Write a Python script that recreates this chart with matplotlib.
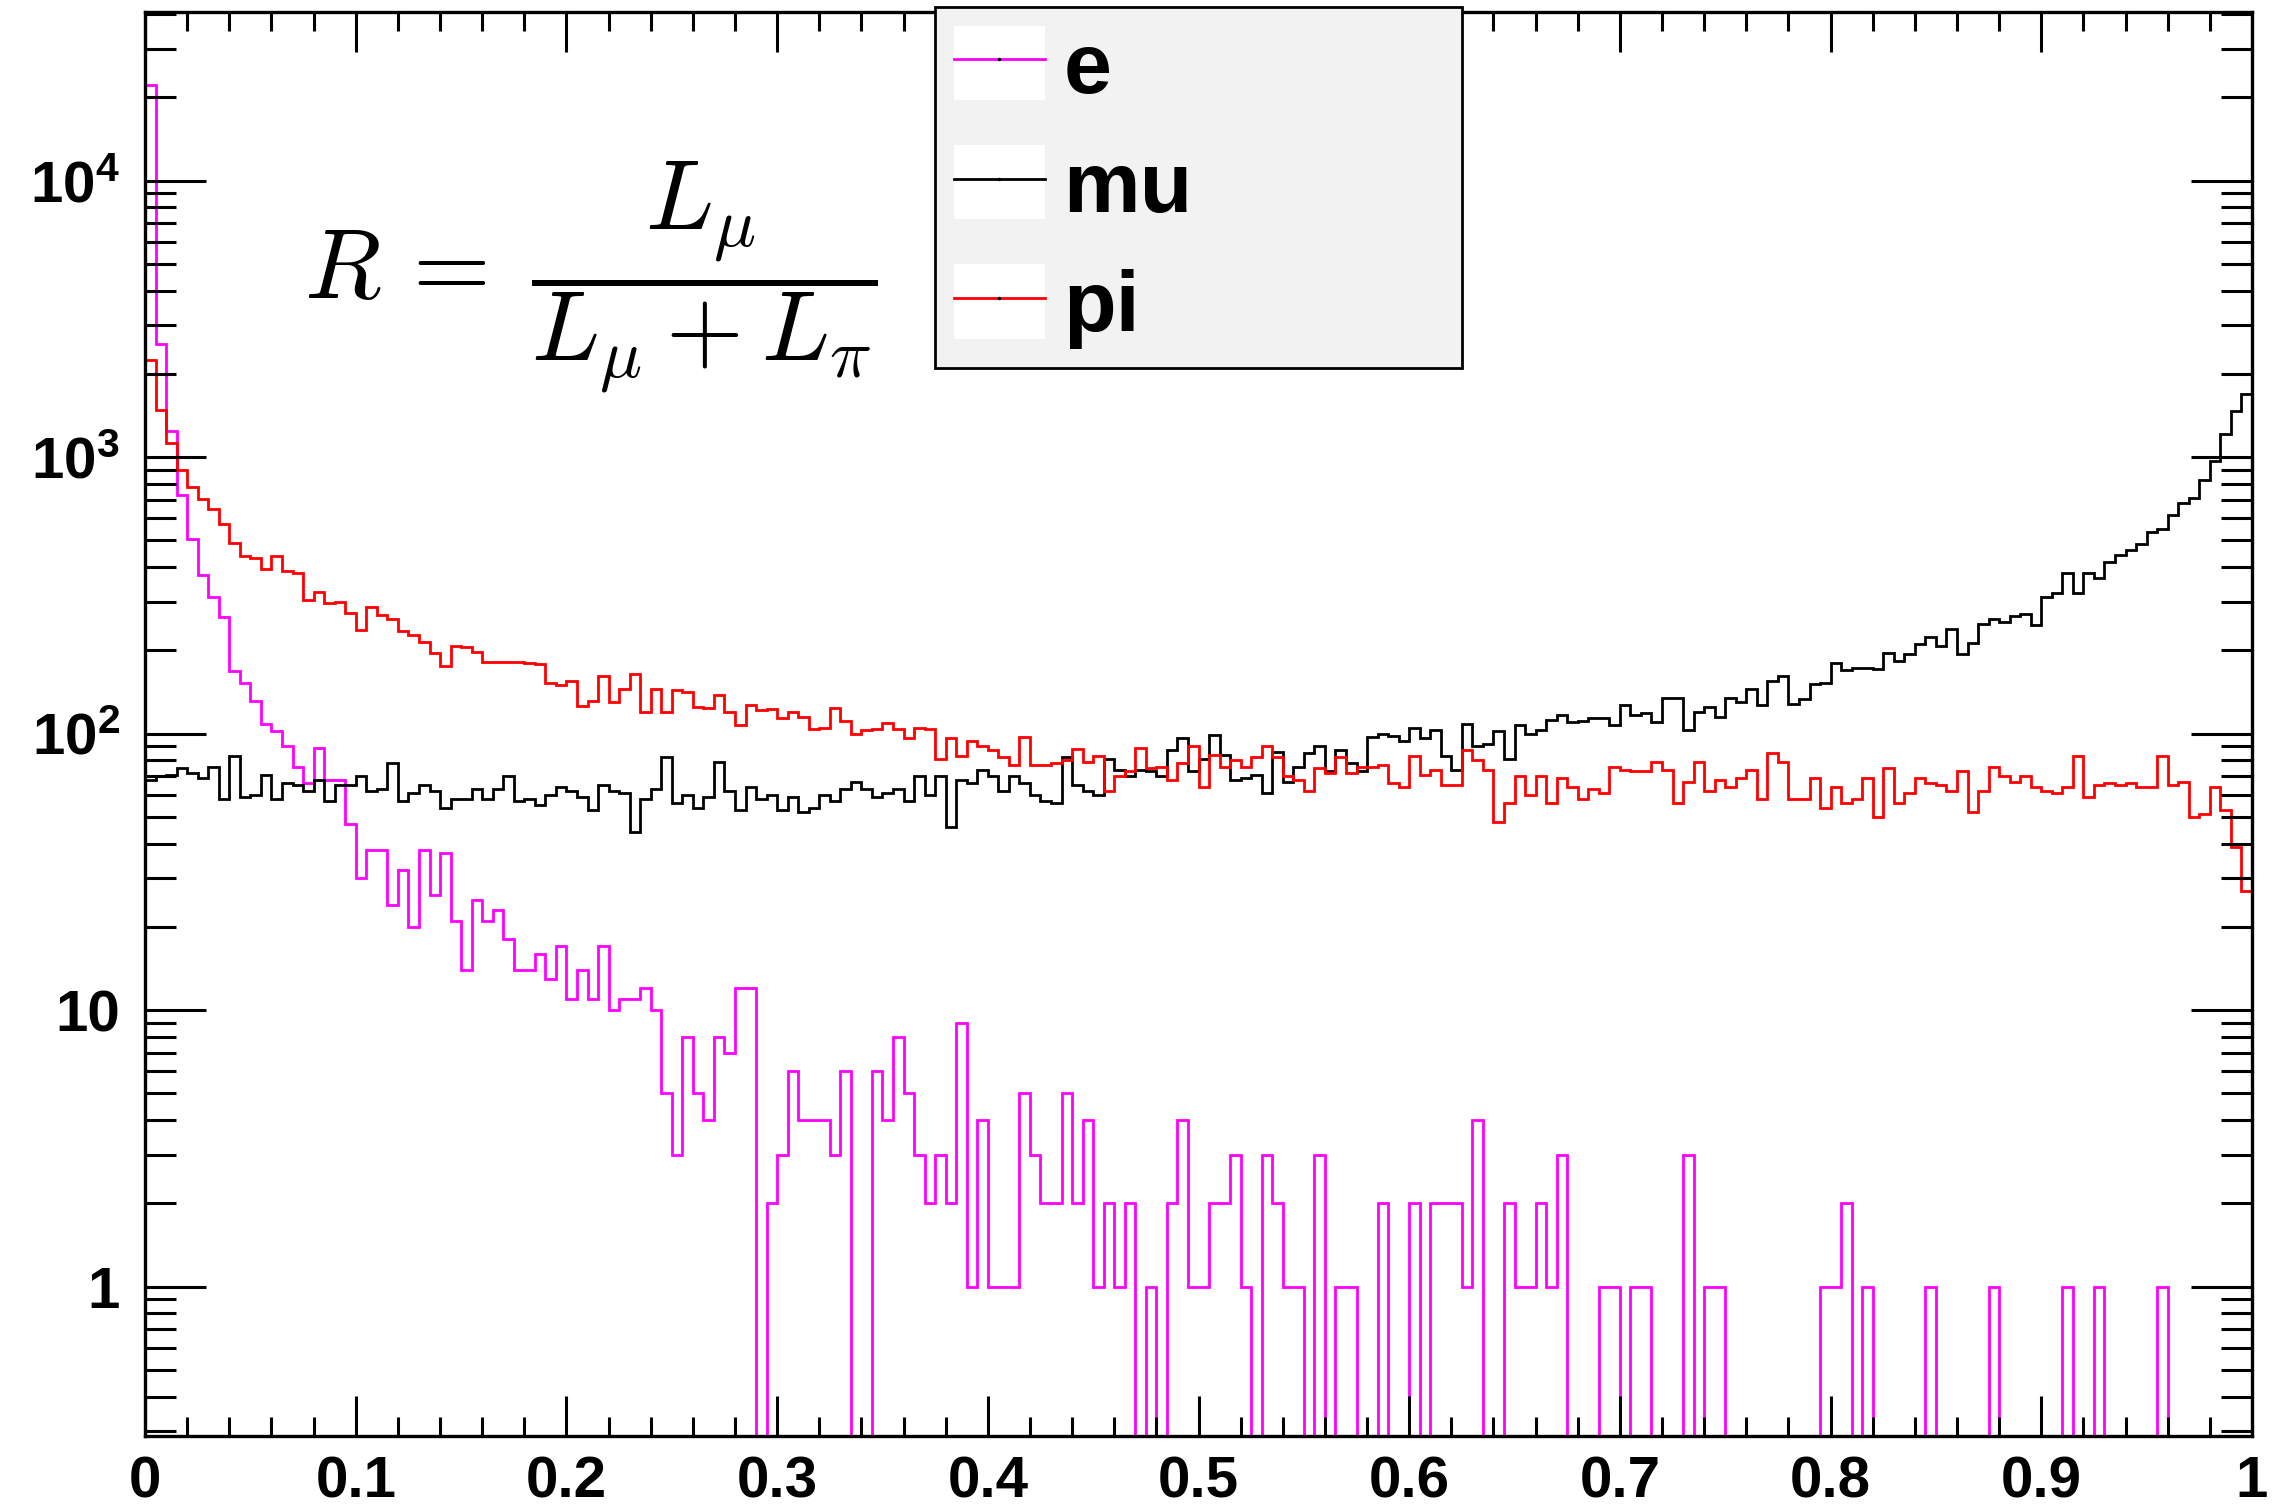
"""
R = L_mu / (L_mu + L_pi) distributions for e / mu / pi samples (ROOT-style log histogram).
"""

import numpy as np
import matplotlib
matplotlib.use("Agg")
import matplotlib.pyplot as plt
from matplotlib.lines import Line2D
from matplotlib.patches import Patch
from matplotlib.legend_handler import HandlerTuple
from matplotlib.ticker import FixedLocator, LogLocator, MultipleLocator, NullFormatter

# 200 bins of R in [0, 1]
n_bins = 200
r_min, r_max = 0.0, 1.0

e_counts = [
    22200, 2555, 1247, 729, 506, 375, 313, 263, 168, 153,
    131, 108, 102, 90, 76, 66, 89, 68, 68, 47,
    30, 38, 38, 24, 32, 20, 38, 26, 37, 21,
    14, 25, 21, 23, 18, 14, 14, 16, 13, 17,
    11, 14, 11, 17, 10, 11, 11, 12, 10, 5,
    3, 8, 5, 4, 8, 7, 12, 12, 0, 2,
    3, 6, 4, 4, 4, 3, 6, 0, 0, 6,
    4, 8, 5, 3, 2, 3, 2, 9, 1, 4,
    1, 1, 1, 5, 3, 2, 2, 5, 2, 4,
    1, 2, 1, 2, 0, 1, 0, 2, 4, 1,
    1, 2, 2, 3, 1, 0, 3, 2, 1, 1,
    0, 3, 0, 1, 1, 0, 0, 2, 0, 0,
    2, 0, 2, 2, 2, 1, 4, 0, 0, 2,
    1, 1, 2, 1, 3, 0, 0, 0, 1, 1,
    0, 1, 1, 0, 0, 0, 3, 0, 1, 1,
    0, 0, 0, 0, 0, 0, 0, 0, 0, 1,
    1, 2, 0, 1, 0, 0, 0, 0, 0, 1,
    0, 0, 0, 0, 0, 1, 0, 0, 0, 0,
    0, 0, 1, 0, 0, 1, 0, 0, 0, 0,
    0, 1, 0, 0, 0, 0, 0, 0, 0, 0,
]

mu_counts = [
    68, 70, 71, 75, 72, 69, 76, 58, 83, 59,
    60, 71, 58, 66, 65, 62, 68, 57, 65, 65,
    70, 62, 63, 78, 57, 61, 65, 62, 54, 58,
    58, 63, 58, 63, 70, 57, 58, 55, 60, 64,
    62, 59, 53, 65, 62, 61, 44, 58, 63, 82,
    56, 60, 54, 59, 79, 62, 53, 64, 58, 60,
    53, 59, 52, 54, 60, 57, 63, 67, 63, 59,
    61, 63, 57, 70, 60, 70, 46, 68, 66, 74,
    70, 62, 70, 66, 60, 57, 56, 82, 65, 62,
    60, 81, 74, 70, 74, 73, 70, 87, 96, 73,
    81, 99, 84, 68, 69, 71, 61, 86, 67, 76,
    85, 90, 73, 87, 78, 73, 97, 100, 98, 94,
    105, 96, 103, 83, 74, 108, 90, 92, 102, 81,
    107, 100, 103, 112, 117, 110, 111, 114, 114, 107,
    127, 117, 119, 110, 134, 134, 103, 120, 125, 115,
    134, 130, 145, 127, 155, 162, 128, 133, 151, 153,
    180, 170, 172, 173, 171, 195, 183, 194, 211, 224,
    208, 239, 194, 213, 249, 259, 253, 267, 270, 247,
    311, 322, 382, 322, 382, 365, 419, 443, 462, 484,
    538, 550, 618, 681, 710, 827, 971, 1210, 1469, 1693,
]

pi_counts = [
    2250, 1480, 1125, 900, 778, 703, 649, 573, 490, 440,
    430, 394, 440, 388, 380, 304, 326, 296, 298, 274,
    237, 286, 269, 260, 235, 227, 215, 195, 176, 208,
    206, 197, 182, 181, 181, 181, 180, 179, 153, 150,
    155, 126, 131, 162, 130, 145, 164, 120, 145, 120,
    144, 141, 125, 124, 138, 120, 107, 127, 122, 123,
    114, 120, 115, 104, 105, 124, 111, 100, 103, 104,
    109, 104, 96, 105, 104, 81, 96, 83, 94, 90,
    87, 82, 77, 97, 77, 77, 78, 80, 88, 79,
    83, 62, 70, 73, 89, 75, 76, 68, 78, 90,
    64, 84, 76, 80, 76, 82, 90, 82, 70, 68,
    62, 75, 72, 82, 72, 76, 76, 77, 66, 64,
    83, 71, 74, 65, 65, 87, 80, 74, 48, 56,
    70, 60, 70, 56, 69, 64, 58, 63, 61, 76,
    74, 73, 73, 79, 74, 56, 67, 79, 62, 68,
    64, 69, 74, 58, 85, 79, 58, 58, 69, 54,
    64, 56, 58, 69, 50, 75, 56, 61, 69, 66,
    65, 62, 73, 52, 62, 76, 70, 67, 70, 64,
    62, 61, 64, 83, 59, 65, 66, 65, 66, 64,
    64, 83, 65, 67, 50, 51, 64, 53, 39, 27,
]

series_names = ["e", "mu", "pi"]
series_colors = ["#ff00ff", "black", "red"]

x_ticks = [0, 0.1, 0.2, 0.3, 0.4, 0.5, 0.6, 0.7, 0.8, 0.9, 1.0]
x_tick_labels = ["0", "0.1", "0.2", "0.3", "0.4", "0.5", "0.6", "0.7", "0.8", "0.9", "1"]
y_ticks = [1, 10, 100, 1000, 10000]
y_tick_labels = ["1", "10", r"$\mathbf{10^{2}}$", r"$\mathbf{10^{3}}$", r"$\mathbf{10^{4}}$"]

plt.rcParams["font.family"] = ["Liberation Sans", "DejaVu Sans"]
plt.rcParams["font.weight"] = "bold"
plt.rcParams["mathtext.fontset"] = "custom"
plt.rcParams["mathtext.rm"] = "Liberation Sans:bold"
plt.rcParams["mathtext.bf"] = "Liberation Sans:bold"
plt.rcParams["mathtext.it"] = "Liberation Sans:bold:italic"

fig = plt.figure(figsize=(22.74, 15.10), dpi=100)
ax = fig.add_axes([0.0638, 0.049, 0.9265, 0.943])

edges = np.linspace(r_min, r_max, n_bins + 1)
for counts, color in zip([e_counts, mu_counts, pi_counts], series_colors):
    c = np.asarray(counts, dtype=float)
    c = np.where(c > 0, c, 1e-3)  # empty bins drop below the axis, as in ROOT
    ax.stairs(c, edges, baseline=None, color=color, lw=2.0)

ax.set_xlim(r_min, r_max)
ax.set_yscale("log")
ax.set_ylim(0.288, 40700)

ax.xaxis.set_major_locator(FixedLocator(x_ticks))
ax.xaxis.set_minor_locator(MultipleLocator(0.02))
ax.set_xticklabels(x_tick_labels)
ax.yaxis.set_major_locator(FixedLocator(y_ticks))
ax.yaxis.set_minor_locator(LogLocator(base=10, subs=range(2, 10)))
ax.yaxis.set_minor_formatter(NullFormatter())
ax.set_yticklabels(y_tick_labels)

ax.tick_params(axis="both", which="both", direction="in", top=True, right=True,
               width=2.2, labelsize=42)
ax.tick_params(axis="x", which="major", length=29, pad=14)
ax.tick_params(axis="x", which="minor", length=14)
ax.tick_params(axis="y", which="major", length=44, pad=18)
ax.tick_params(axis="y", which="minor", length=22)
for s in ax.spines.values():
    s.set_linewidth(2.4)

ax.text(0.2117, 0.813, r"$R\,=\;\dfrac{L_\mu}{L_\mu + L_\pi}$", transform=ax.transAxes,
        ha="center", va="center", fontsize=72, math_fontfamily="cm")

handles = []
for color in series_colors:
    box = Patch(facecolor="white", edgecolor="none")
    line = Line2D([], [], color=color, lw=2.0, marker=".", markersize=3,
                  markerfacecolor="black", markeredgecolor="black")
    handles.append((box, line))
leg = ax.legend(handles, series_names,
                handler_map={tuple: HandlerTuple(ndivide=1, pad=0)},
                loc="upper left", bbox_to_anchor=(0.375, 0.7507, 0.25, 0.2528),
                mode="expand", borderaxespad=0, fontsize=62, frameon=True,
                fancybox=False, framealpha=1, facecolor="#f2f2f2", edgecolor="black",
                handlelength=1.05, handleheight=0.95, handletextpad=0.22,
                labelspacing=0.40, borderpad=0.22)
leg.get_frame().set_linewidth(2.0)
for t in leg.get_texts():
    t.set_fontweight("bold")

fig.savefig("out.png", dpi=100)
